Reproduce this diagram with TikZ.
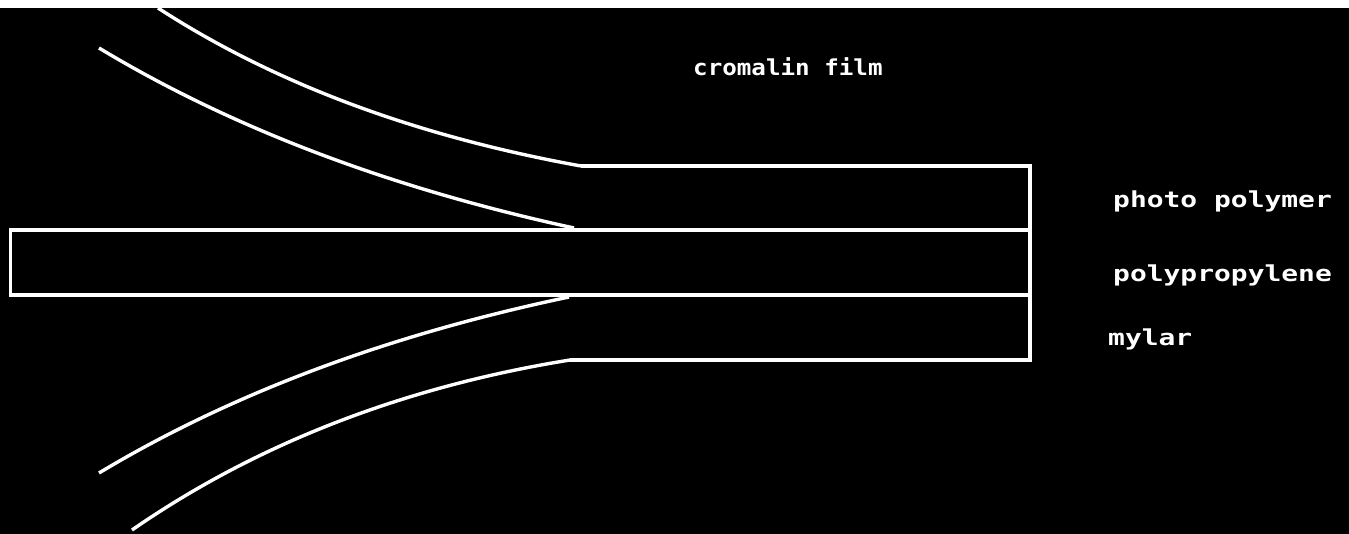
\documentclass[tikz,border=0pt]{standalone}
\usepackage{fontspec}
\usepackage{graphicx}
\newfontfamily\pixfont{DejaVu Sans Mono Bold}
\begin{document}
\begin{tikzpicture}[x=1pt,y=-1pt,
  wline/.style={draw=white,line width=3.4pt,line cap=butt},
  curve/.style={draw=white,line width=3.4pt},
  lbl/.style={text=white,anchor=base west,inner sep=0pt,font=\pixfont\fontsize{22}{24}\selectfont}]
\useasboundingbox (0,0) rectangle (1349,534);
\fill[black] (0,0) rectangle (1349,534);
\fill[white] (0,0) rectangle (1349,8);
% layers
\coordinate (ppTL) at (10.5,230);
\coordinate (ppBR) at (1030,295);
\draw[wline] (ppTL) rectangle (ppBR);
\coordinate (phL) at (581,166);
\coordinate (phR) at (1030,166);
\draw[wline] (phL) -- (phR) -- (1030,230);
\coordinate (myL) at (570,360);
\coordinate (myR) at (1030,360);
\draw[wline] (myL) -- (myR) -- (1030,295);
% curves
\coordinate (uo) at (158,8);
\coordinate (ui) at (99,48);
\coordinate (ui2) at (574,228);
\coordinate (li2) at (569,297);
\coordinate (li) at (99,473);
\coordinate (lo) at (132,530);
\draw[curve] (uo) .. controls (274,83.3) and (415,136) .. (phL);
\draw[curve] (ui) .. controls (231.7,128) and (389.7,188) .. (ui2);
\draw[curve] (li2) .. controls (387.7,335) and (231,393.7) .. (li);
\draw[curve] (myL) .. controls (404.3,386.7) and (257.3,443.3) .. (lo);
% labels
\node[lbl] (t1) at (693,76) {\scalebox{1.1}[1]{cromalin film}};
\node[lbl] (t2) at (1113,208) {\scalebox{1.27}[1]{photo polymer}};
\node[lbl] (t3) at (1113,282) {\scalebox{1.27}[1]{polypropylene}};
\node[lbl] (t4) at (1108,346) {\scalebox{1.27}[1]{mylar}};
\end{tikzpicture}
\end{document}
